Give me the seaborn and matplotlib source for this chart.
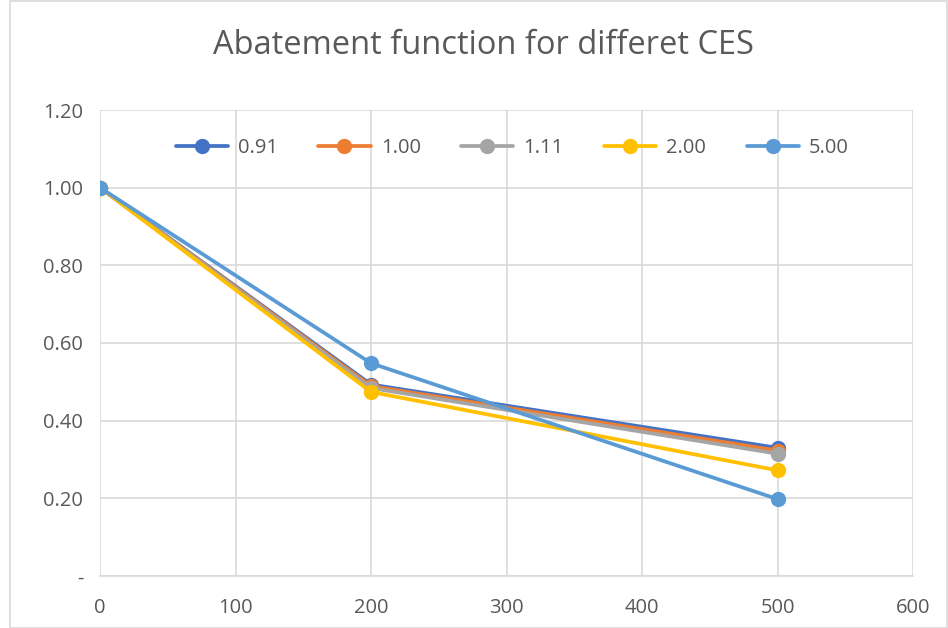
import matplotlib
matplotlib.use("Agg")
import matplotlib.pyplot as plt
import seaborn as sns
import pandas as pd
from matplotlib.patches import Rectangle

x_vals = [0, 200, 500]
series_names = ["0.91", "1.00", "1.11", "2.00", "5.00"]
s_091 = [1.0, 0.493, 0.330]
s_100 = [1.0, 0.489, 0.323]
s_111 = [1.0, 0.484, 0.315]
s_200 = [1.0, 0.474, 0.272]
s_500 = [1.0, 0.548, 0.198]
colors = ["#4472C4", "#ED7D31", "#A5A5A5", "#FFC000", "#5B9BD5"]
y_ticks = [0, 0.2, 0.4, 0.6, 0.8, 1.0, 1.2]
y_tick_labels = ["-", "0.20", "0.40", "0.60", "0.80", "1.00", "1.20"]
x_ticks = [0, 100, 200, 300, 400, 500, 600]
title = "Abatement function for differet CES"

rows = []
for name, vals in zip(series_names, [s_091, s_100, s_111, s_200, s_500]):
    for xv, yv in zip(x_vals, vals):
        rows.append({"x": xv, "y": yv, "CES": name})
df = pd.DataFrame(rows)

sns.set_style("white")
plt.rcParams["font.family"] = ["Open Sans", "DejaVu Sans"]

fig = plt.figure(figsize=(9.48, 6.28), dpi=100)
ax = fig.add_axes([100/948, 1-576/628, (913-100)/948, (576-110)/628])

sns.lineplot(data=df, x="x", y="y", hue="CES", palette=colors, marker="o",
             markersize=11, linewidth=2.7, markeredgewidth=0, ax=ax,
             hue_order=series_names, zorder=3)

ax.set_xlim(0, 600)
ax.set_ylim(0, 1.2)
ax.set_xticks(x_ticks)
ax.set_xticklabels([str(v) for v in x_ticks])
ax.set_yticks(y_ticks)
ax.set_yticklabels(y_tick_labels)
ax.grid(True, color="#D9D9D9", linewidth=1.2)
ax.set_axisbelow(True)
for s in ["top", "right", "left"]:
    ax.spines[s].set_visible(False)
ax.spines["bottom"].set_color("#D9D9D9")
ax.spines["bottom"].set_linewidth(1.2)
ax.tick_params(axis="both", length=0, labelsize=14.5, colors="#595959")
ax.tick_params(axis="x", pad=16)
ax.tick_params(axis="y", pad=12)
ax.set_xlabel("")
ax.set_ylabel("")

leg = ax.legend(loc="center", bbox_to_anchor=(0.507, 1-(148-110)/466), ncol=5,
                frameon=False, fontsize=14.5, handlelength=2.6, columnspacing=2.0,
                handletextpad=0.5)
for t in leg.get_texts():
    t.set_color("#595959")

fig.text(483/948, 1-45/628, title, ha="center", va="center", fontsize=23.5, color="#595959")

fig.patches.append(Rectangle((10/948, 0.0), 1-10/948-0.001, 1-0.002, transform=fig.transFigure,
                             fill=False, edgecolor="#D9D9D9", linewidth=1.2))

fig.savefig("out.png", dpi=100)
